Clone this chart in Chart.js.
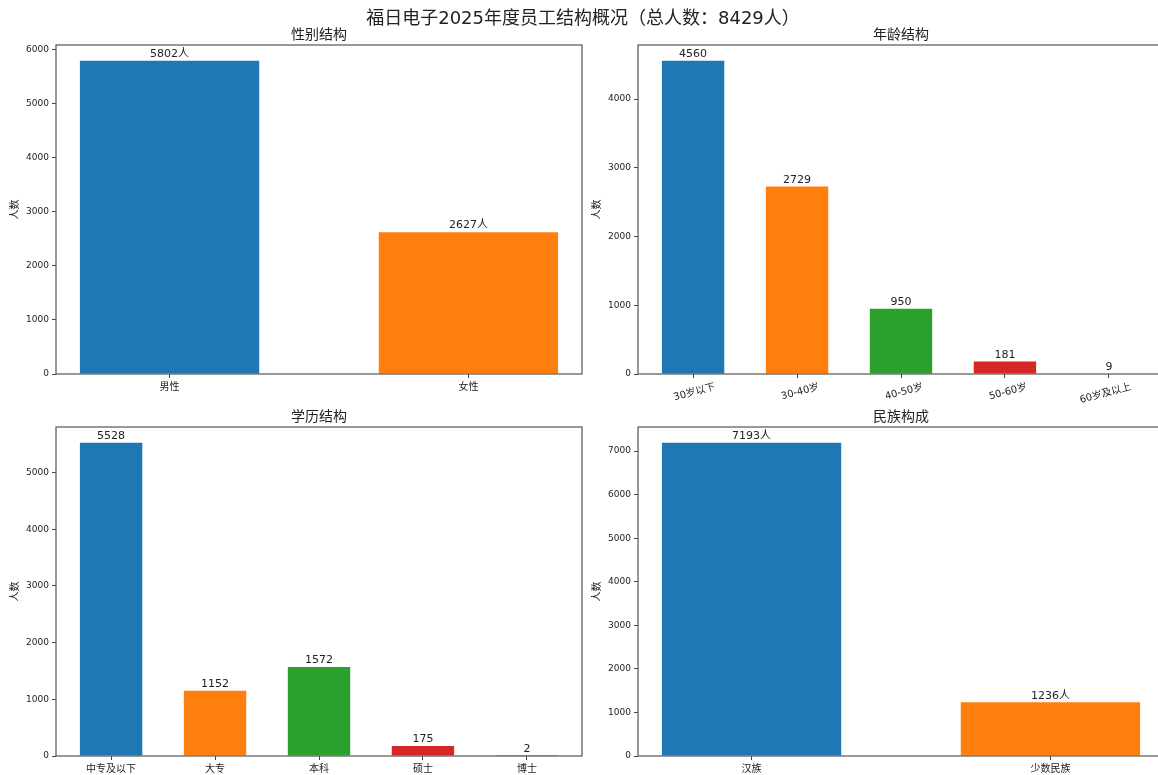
<!DOCTYPE html>
<html>
<head>
<meta charset="utf-8">
<script src="https://cdn.jsdelivr.net/npm/chart.js@4.4.1/dist/chart.umd.min.js"></script>
<style>
  html, body { margin: 0; padding: 0; background: #fff; overflow: hidden; width: 1158px; height: 775px; }
  .box { position: absolute; }
  #mainTitle {
    position: absolute; left: 0; top: 6px; width: 1166px; text-align: center; z-index: 5;
    font-family: "DejaVu Sans", "Noto Sans CJK SC", sans-serif; font-size: 18px; line-height: 24px; color: #222;
  }
</style>
</head>
<body>
<div id="mainTitle">福日电子2025年度员工结构概况（总人数：8429人）</div>
<div class="box" style="left:0px;top:0px;width:588px;height:404px"><canvas id="c1"></canvas></div>
<div class="box" style="left:582px;top:0px;width:588px;height:404px"><canvas id="c2"></canvas></div>
<div class="box" style="left:0px;top:382px;width:588px;height:393px"><canvas id="c3"></canvas></div>
<div class="box" style="left:582px;top:382px;width:588px;height:393px"><canvas id="c4"></canvas></div>
<script>
// ---------- DATOS ----------
const genderLabels = ["男性", "女性"];
const genderValues = [5802, 2627];

const ageLabels = ["30岁以下", "30-40岁", "40-50岁", "50-60岁", "60岁及以上"];
const ageValues = [4560, 2729, 950, 181, 9];

const eduLabels = ["中专及以下", "大专", "本科", "硕士", "博士"];
const eduValues = [5528, 1152, 1572, 175, 2];

const ethLabels = ["汉族", "少数民族"];
const ethValues = [7193, 1236];

const COLORS = ["#1f77b4", "#ff7f0e", "#2ca02c", "#d62728", "#9467bd"];
const FONT = '"DejaVu Sans", "Noto Sans CJK SC", sans-serif';

// ---------- PLUGIN: marco + etiquetas ----------
const frameAndLabels = {
  id: "frameAndLabels",
  afterDatasetsDraw(chart, args, opts) {
    const { ctx, chartArea: a } = chart;
    ctx.save();
    ctx.strokeStyle = "#555";
    ctx.lineWidth = 1.2;
    ctx.strokeRect(a.left, a.top, a.right - a.left, a.bottom - a.top);
    ctx.font = "11px " + FONT;
    ctx.fillStyle = "#222";
    ctx.textAlign = "center";
    ctx.textBaseline = "bottom";
    const ds = chart.data.datasets[0];
    chart.getDatasetMeta(0).data.forEach((bar, i) => {
      ctx.fillText(ds.data[i].y + (opts.suffix || ""), bar.x, bar.y - 1);
    });
    ctx.restore();
  }
};

// ---------- GRAFICOS ----------
function makeChart(id, title, labels, values, opt) {
  const n = labels.length;
  const margin = 0.3 + 0.05 * (n - 1 + 0.6);
  const ymax = Math.max(...values) * 1.05;
  const rot = opt.rotate || 0;

  return new Chart(document.getElementById(id), {
    type: "bar",
    data: {
      datasets: [{
        data: values.map((v, i) => ({ x: i, y: v })),
        backgroundColor: values.map((v, i) => COLORS[i % COLORS.length]),
        borderWidth: 0,
        barPercentage: 0.6,
        categoryPercentage: 1
      }]
    },
    options: {
      responsive: true,
      maintainAspectRatio: false,
      animation: false,
      devicePixelRatio: 1,
      layout: { padding: { top: 26.6, right: 6, bottom: 0, left: 0 } },
      plugins: {
        legend: { display: false },
        tooltip: { enabled: false },
        title: {
          display: true, text: title, color: "#222", fullSize: false,
          font: { family: FONT, size: 14, weight: "normal" },
          padding: { top: 0, bottom: 1.6 }
        },
        frameAndLabels: { suffix: opt.suffix }
      },
      scales: {
        x: {
          type: "linear",
          offset: false,
          min: -margin,
          max: n - 1 + margin,
          afterBuildTicks: s => { s.ticks = labels.map((l, i) => ({ value: i })); },
          afterFit: s => { s.height = opt.xh; },
          grid: { display: true, offset: false, drawOnChartArea: false, drawTicks: true, tickLength: 4, color: "#444" },
          border: { display: false },
          ticks: {
            autoSkip: false,
            maxRotation: rot, minRotation: rot,
            labelOffset: opt.labelOffset || 0,
            padding: 3,
            color: "#222",
            font: { family: FONT, size: 10 },
            callback: v => labels[v]
          }
        },
        y: {
          min: 0,
          max: ymax,
          afterBuildTicks: s => {
            const t = [];
            for (let v = 0; v <= s.max; v += 1000) t.push({ value: v });
            s.ticks = t;
          },
          afterFit: s => { s.width = 56; },
          grid: { display: true, drawOnChartArea: false, drawTicks: true, tickLength: 4, color: "#444" },
          border: { display: false },
          ticks: {
            autoSkip: false, padding: 3, color: "#222",
            font: { family: FONT, size: 9 },
            callback: v => String(v)
          },
          title: {
            display: true, text: "人数", color: "#222",
            font: { family: FONT, size: 10 },
            padding: { top: 9, bottom: 0 }
          }
        }
      }
    },
    plugins: [frameAndLabels]
  });
}

makeChart("c1", "性别结构", genderLabels, genderValues, { suffix: "人", xh: 30 });
makeChart("c2", "年龄结构", ageLabels, ageValues, { suffix: "", xh: 30, rotate: 15, labelOffset: 22 });
makeChart("c3", "学历结构", eduLabels, eduValues, { suffix: "", xh: 19 });
makeChart("c4", "民族构成", ethLabels, ethValues, { suffix: "人", xh: 19 });
</script>
</body>
</html>
